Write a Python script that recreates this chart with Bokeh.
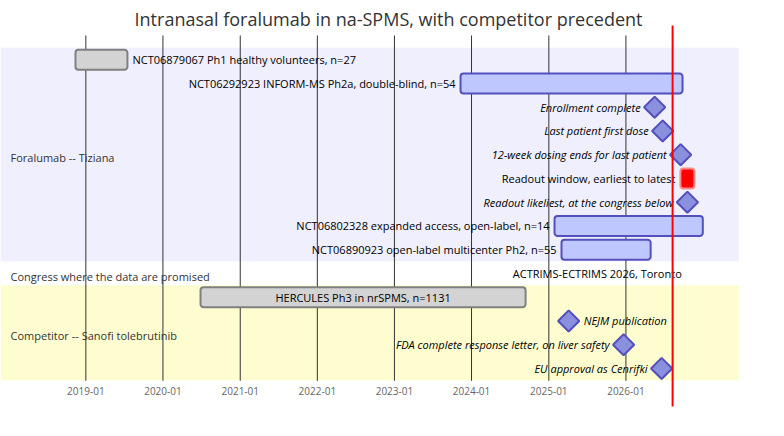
from datetime import datetime
import math
from bokeh.plotting import figure
from bokeh.models import Range1d, ColumnDataSource
from bokeh.core.properties import value
from bokeh.embed import file_html
from bokeh.resources import INLINE


def d(s):
    return datetime.strptime(s, "%Y-%m-%d")


title = "Intranasal foralumab in na-SPMS, with competitor precedent"

# sections, top to bottom, with the number of rows each holds
section_names = ["Foralumab -- Tiziana",
                 "Congress where the data are promised",
                 "Competitor -- Sanofi tolebrutinib"]
section_rows = [9, 1, 4]

# one task per row
task_names = [
    "NCT06879067 Ph1 healthy volunteers, n=27",
    "NCT06292923 INFORM-MS Ph2a, double-blind, n=54",
    "Enrollment complete",
    "Last patient first dose",
    "12-week dosing ends for last patient",
    "Readout window, earliest to latest",
    "Readout likeliest, at the congress below",
    "NCT06802328 expanded access, open-label, n=14",
    "NCT06890923 open-label multicenter Ph2, n=55",
    "ACTRIMS-ECTRIMS 2026, Toronto",
    "HERCULES Ph3 in nrSPMS, n=1131",
    "NEJM publication",
    "FDA complete response letter, on liver safety",
    "EU approval as Cenrifki",
]
task_starts = ["2018-11-13", "2023-11-10", "2026-05-17", "2026-06-24", "2026-09-17",
               "2026-09-16", "2026-10-19", "2025-01-28", "2025-03-02", "2026-10-16",
               "2020-06-27", "2025-04-05", "2025-12-21", "2026-06-19"]
task_ends = ["2019-07-17", "2026-09-26", "2026-05-17", "2026-06-24", "2026-09-17",
             "2026-11-21", "2026-10-19", "2026-12-31", "2026-04-28", "2026-10-16",
             "2024-09-13", "2025-04-05", "2025-12-21", "2026-06-19"]
task_kinds = ["done", "active", "milestone", "milestone", "milestone",
              "crit", "milestone", "active", "active", "hidden",
              "done", "milestone", "milestone", "milestone"]

tick_labels = ["2019-01", "2020-01", "2021-01", "2022-01",
               "2023-01", "2024-01", "2025-01", "2026-01"]
today = "2026-08-10"

# layout
label_side = ["right", "left", "left", "left", "left", "left", "left", "left", "left",
              "left", "inside", "right", "left", "left"]
section_colors = ["#efeffd", "#ffffff", "#fefdd0"]
styles = {
    "done": ("#d3d3d3", "#808080"),
    "active": ("#bfc7ff", "#534fbc"),
    "crit": ("#ff0000", "#ff8888"),
}
FONT = value("Open Sans")
x_start, x_end = d("2017-11-23"), d("2027-11-07")
section_end = d("2027-06-19")
half = 0.42

p = figure(width=768, height=420, x_axis_type="datetime",
           x_range=Range1d(x_start, x_end), y_range=Range1d(15.192, -2.493),
           x_axis_location=None, y_axis_location=None,
           toolbar_location=None, output_backend="svg", min_border=0)
p.grid.visible = False
p.outline_line_color = None

# section backgrounds and titles
row0 = 0
for name, n, col in zip(section_names, section_rows, section_colors):
    p.quad(left=x_start, right=section_end, top=row0 - 0.5, bottom=row0 + n - 0.5,
           fill_color=col, line_color=None)
    p.text(x=[x_start], y=[row0 + (n - 1) / 2], text=[name], x_offset=10, y_offset=3,
           text_font=FONT, text_font_size="11px", text_color="#333333",
           text_baseline="middle", text_align="left")
    row0 += n

# grid lines
ticks = [d(t + "-01") for t in tick_labels]
p.segment(x0=ticks, y0=-1.02, x1=ticks, y1=13.52, line_color="#333333", line_width=1)
p.text(x=ticks, y=13.97, text=tick_labels, text_font=FONT, text_font_size="10px",
       text_color="#666666", text_align="center", text_baseline="middle")

rows = list(range(len(task_names)))
starts = [d(s) for s in task_starts]
ends = [d(s) for s in task_ends]

# bars
for kind, (fill, line) in styles.items():
    idx = [i for i in rows if task_kinds[i] == kind]
    src = ColumnDataSource(dict(l=[starts[i] for i in idx], r=[ends[i] for i in idx],
                                t=[i - half for i in idx], b=[i + half for i in idx]))
    p.quad(left="l", right="r", top="t", bottom="b", source=src,
           fill_color=fill, line_color=line, line_width=2, border_radius=3)

# milestones
mi = [i for i in rows if task_kinds[i] == "milestone"]
p.scatter(x=[starts[i] for i in mi], y=mi, marker="square", size=15, angle=math.pi / 4,
          fill_color="#8a90dd", line_color="#534fbc", line_width=2)

# labels
for i in rows:
    kind = task_kinds[i]
    side = label_side[i]
    style = "italic" if kind == "milestone" else "normal"
    if side == "inside":
        x, off, align = starts[i] + (ends[i] - starts[i]) / 2, 0, "center"
    elif side == "right":
        x, off, align = ends[i], (15 if kind == "milestone" else 5), "left"
    else:
        x, off, align = starts[i], (-14 if kind == "milestone" else -5), "right"
    p.text(x=[x], y=[i], text=[task_names[i]], x_offset=off, text_font=FONT,
           text_font_size="11px", text_font_style=style, text_color="#000000",
           text_align=align, text_baseline="middle")

# today marker
p.segment(x0=[d(today)], y0=[-1.44], x1=[d(today)], y1=[14.6], line_color="red", line_width=2)

# title
p.text(x=[x_start + (x_end - x_start) / 2], y=[-1.693], text=[title], x_offset=4,
       text_font=FONT, text_font_size="18px", text_color="#333333",
       text_align="center", text_baseline="middle")

open("out.html", "w").write(file_html(p, INLINE))
